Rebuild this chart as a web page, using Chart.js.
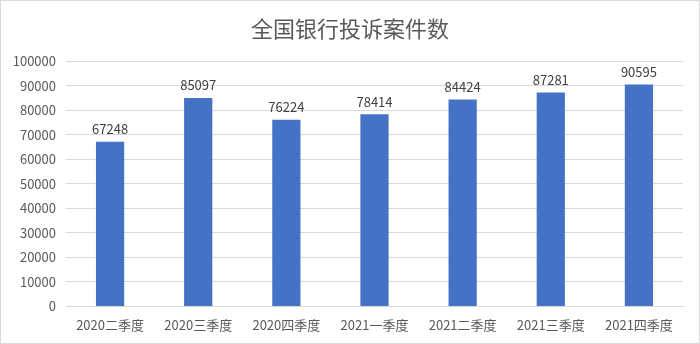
<!DOCTYPE html>
<html>
<head>
<meta charset="utf-8">
<script src="https://cdn.jsdelivr.net/npm/chart.js@4"></script>
<style>
  html,body{margin:0;padding:0;background:#fff;}
  .wrap{position:relative;width:698px;height:342px;border:1px solid #d9d9d9;}
</style>
</head>
<body>
<div class="wrap"><canvas id="c"></canvas></div>
<script>
const categories = ['2020二季度','2020三季度','2020四季度','2021一季度','2021二季度','2021三季度','2021四季度'];
const complaints = [67248, 85097, 76224, 78414, 84424, 87281, 90595];
const chartTitle = '全国银行投诉案件数';

const FONT = '"Microsoft YaHei","Noto Sans CJK SC","DejaVu Sans",sans-serif';

// value labels above each bar
const barLabels = {
  id:'barLabels',
  afterDatasetsDraw(chart){
    const ctx = chart.ctx;
    ctx.save();
    ctx.font = '13px ' + FONT;
    ctx.fillStyle = '#404040';
    ctx.textAlign = 'center';
    ctx.textBaseline = 'bottom';
    chart.getDatasetMeta(0).data.forEach((bar,i)=>{
      ctx.fillText(String(complaints[i]), bar.x, bar.y - 6);
    });
    ctx.restore();
  }
};

new Chart(document.getElementById('c'), {
  type:'bar',
  data:{ labels:categories, datasets:[{ data:complaints, backgroundColor:'#4472c4', barPercentage:0.4, categoryPercentage:0.8 }]},
  options:{
    responsive:true, maintainAspectRatio:false, animation:false,
    layout:{ padding:{ left:8, right:8, top:6, bottom:7 } },
    plugins:{
      legend:{ display:false },
      tooltip:{ enabled:false },
      title:{ display:true, text:chartTitle, color:'#595959', font:{ family:FONT, size:22, weight:'normal' }, padding:{ top:8, bottom:20 } }
    },
    scales:{
      x:{ grid:{ display:false }, border:{ color:'#d9d9d9' },
          ticks:{ color:'#595959', font:{ family:FONT, size:13 } } },
      y:{ min:0, max:100000, border:{ display:false },
          grid:{ color:'#d9d9d9', drawTicks:false },
          ticks:{ stepSize:10000, color:'#595959', padding:10, font:{ family:FONT, size:13 },
                  callback:v=>String(v) },
          afterFit:s=>{ s.width = 57; } },
      // empty right-side spacer so the title stays centred on the page
      yr:{ position:'right', grid:{ display:false }, border:{ display:false },
           ticks:{ display:false }, afterFit:s=>{ s.width = 8; } }
    }
  },
  plugins:[barLabels]
});
</script>
</body>
</html>
